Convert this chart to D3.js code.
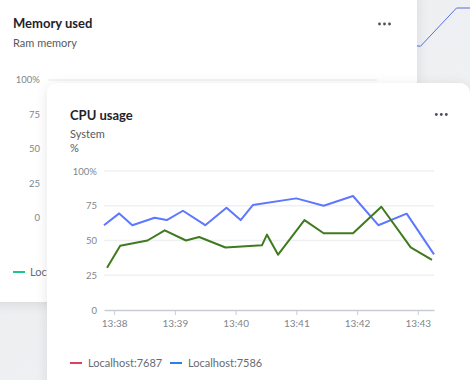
<!DOCTYPE html>
<html><head><meta charset="utf-8">
<script src="https://cdn.jsdelivr.net/npm/d3@7"></script>
<style>
html,body{margin:0;padding:0;background:#eceef1;}
svg{display:block;font-family:Lato,"Open Sans",sans-serif;}
</style></head>
<body>
<svg id="c" width="470" height="380"></svg>
<script>
// ---- data ----
const yTicks = [0, 25, 50, 75, 100];
const xTickLabels = ["13:38", "13:39", "13:40", "13:41", "13:42", "13:43"];
const legendLabels = ["Localhost:7687", "Localhost:7586"];
const memLegendLabels = ["Localhost"];
const blueTimes = ["13:37:50","13:38:05","13:38:18","13:38:40","13:38:52","13:39:08","13:39:30","13:39:51","13:40:05","13:40:17","13:41:00","13:41:27","13:41:56","13:42:21","13:42:49","13:43:16"];
const blueValues = [61, 69.5, 61, 66.4, 64.7, 71.4, 61, 73.6, 64.7, 75.5, 80.3, 75, 82, 61, 69.3, 40];
const greenTimes = ["13:37:53","13:38:06","13:38:33","13:38:50","13:39:11","13:39:24","13:39:50","13:40:26","13:40:31","13:40:42","13:41:08","13:41:27","13:41:56","13:42:24","13:42:53","13:43:14"];
const greenValues = [30.4, 46.3, 50, 57.3, 50, 52.5, 45, 46.5, 54.2, 39.8, 64.7, 55.2, 55.2, 74.3, 45, 36];
const bgLineX = [0, 1, 9, 12];
const bgLineY = [10, 9, 100, 100];

const svg = d3.select("#c");
const defs = svg.append("defs");
const f = defs.append("filter").attr("id","sh").attr("x","-20%").attr("y","-20%").attr("width","140%").attr("height","140%");
f.append("feDropShadow").attr("dx",0).attr("dy",2).attr("stdDeviation",6).attr("flood-color","#000").attr("flood-opacity",0.10);

const g0 = defs.append("linearGradient").attr("id","bg").attr("x1",0).attr("y1",0).attr("x2",1).attr("y2",1);
g0.append("stop").attr("offset","0%").attr("stop-color","#e9ebee");
g0.append("stop").attr("offset","100%").attr("stop-color","#f3f4f6");
svg.append("rect").attr("width",470).attr("height",380).attr("fill","url(#bg)");

// partial background chart line (top right)
const bx = d3.scaleLinear().domain([0,12]).range([416,470]);
const by = d3.scaleLinear().domain([0,100]).range([50,8]);
svg.append("path").datum(bgLineX.map((d,i)=>[d,bgLineY[i]]))
  .attr("d", d3.line().x(d=>bx(d[0])).y(d=>by(d[1])))
  .attr("fill","none").attr("stroke","#5a6fd6").attr("stroke-width",1);

function dots(cx, cy){
  svg.append("g").selectAll("circle").data([-5,0,5]).join("circle")
    .attr("cx",d=>cx+d).attr("cy",cy).attr("r",1.4).attr("fill","#4a4f58");
}

// ---- Memory card ----
svg.append("rect").attr("x",-12).attr("y",-12).attr("width",429).attr("height",314).attr("rx",8)
  .attr("fill","#fff").attr("filter","url(#sh)");
svg.append("text").attr("x",13).attr("y",28).attr("font-size",13).attr("font-weight",700).attr("fill","#1f2329").text("Memory used");
svg.append("text").attr("x",13).attr("y",47).attr("font-size",11).attr("fill","#555a62").text("Ram memory");
dots(384.5, 24);
const my = d3.scaleLinear().domain([0,100]).range([218,80]);
const mg = svg.append("g");
mg.selectAll("line").data(yTicks).join("line")
  .attr("x1",48).attr("x2",377).attr("y1",d=>my(d)).attr("y2",d=>my(d))
  .attr("stroke","#eef0f3").attr("stroke-width",1.5);
mg.selectAll("text").data(yTicks).join("text")
  .attr("x",40).attr("y",d=>my(d)).attr("dy","0.35em").attr("text-anchor","end")
  .attr("font-size",9.5).attr("fill","#80858e").text(d=>d===100?"100%":d);
svg.append("line").attr("x1",13).attr("x2",25).attr("y1",272).attr("y2",272).attr("stroke","#1cc38a").attr("stroke-width",2);
svg.append("text").attr("x",30).attr("y",272).attr("dy","0.35em").attr("font-size",11).attr("fill","#666b73").text(memLegendLabels[0]);

// ---- CPU card ----
svg.append("rect").attr("x",47).attr("y",83).attr("width",423).attr("height",330).attr("rx",10)
  .attr("fill","#fff").attr("filter","url(#sh)");
svg.append("text").attr("x",70).attr("y",120).attr("font-size",13).attr("font-weight",700).attr("fill","#1f2329").text("CPU usage");
dots(441.3, 114.5);
svg.append("text").attr("x",70).attr("y",138).attr("font-size",11).attr("fill","#555a62").text("System");
svg.append("text").attr("x",70).attr("y",152).attr("font-size",11).attr("fill","#555a62").text("%");

const parse = d3.timeParse("%H:%M:%S");
const x = d3.scaleTime().domain([parse("13:37:50"), parse("13:43:16")]).range([104,434]);
const y = d3.scaleLinear().domain([0,100]).range([310,171]);

const grid = svg.append("g");
grid.selectAll("line").data(yTicks.filter(d=>d>0)).join("line")
  .attr("x1",104).attr("x2",434).attr("y1",d=>y(d)).attr("y2",d=>y(d))
  .attr("stroke","#eef0f3").attr("stroke-width",1.5);

const yAxis = svg.append("g").attr("transform","translate(104,0)")
  .call(d3.axisLeft(y).tickValues(yTicks).tickSize(0).tickPadding(7).tickFormat(d=>d===100?"100%":d));
yAxis.select(".domain").remove();
yAxis.selectAll("text").attr("font-size",9.5).attr("fill","#80858e").attr("font-family","Lato,'Open Sans',sans-serif");

const xTicks = xTickLabels.map(t=>parse(t+":00"));
const xAxis = svg.append("g").attr("transform","translate(0,310)")
  .call(d3.axisBottom(x).tickValues(xTicks).tickSize(5).tickPadding(5).tickFormat(d3.timeFormat("%H:%M")).tickSizeOuter(0));
xAxis.select(".domain").attr("stroke","#c9cdd3").attr("stroke-width",1.5);
xAxis.selectAll(".tick line").attr("stroke","#c9cdd3");
xAxis.selectAll("text").attr("font-size",10).attr("fill","#80858e").attr("font-family","Lato,'Open Sans',sans-serif");

const line = d3.line().x(d=>x(d[0])).y(d=>y(d[1]));
svg.append("path").datum(blueTimes.map((t,i)=>[parse(t),blueValues[i]]))
  .attr("d",line).attr("fill","none").attr("stroke","#5d78ff").attr("stroke-width",2).attr("stroke-linejoin","round");
svg.append("path").datum(greenTimes.map((t,i)=>[parse(t),greenValues[i]]))
  .attr("d",line).attr("fill","none").attr("stroke","#3f7b1e").attr("stroke-width",2).attr("stroke-linejoin","round");

const legColors = ["#e0405f","#2f7fe6"];
const legX = [70,170];
const lg = svg.append("g");
legendLabels.forEach((l,i)=>{
  lg.append("line").attr("x1",legX[i]).attr("x2",legX[i]+12).attr("y1",363).attr("y2",363).attr("stroke",legColors[i]).attr("stroke-width",2);
  lg.append("text").attr("x",legX[i]+18).attr("y",363).attr("dy","0.35em").attr("font-size",11).attr("fill","#666b73").text(l);
});
</script>
</body></html>
